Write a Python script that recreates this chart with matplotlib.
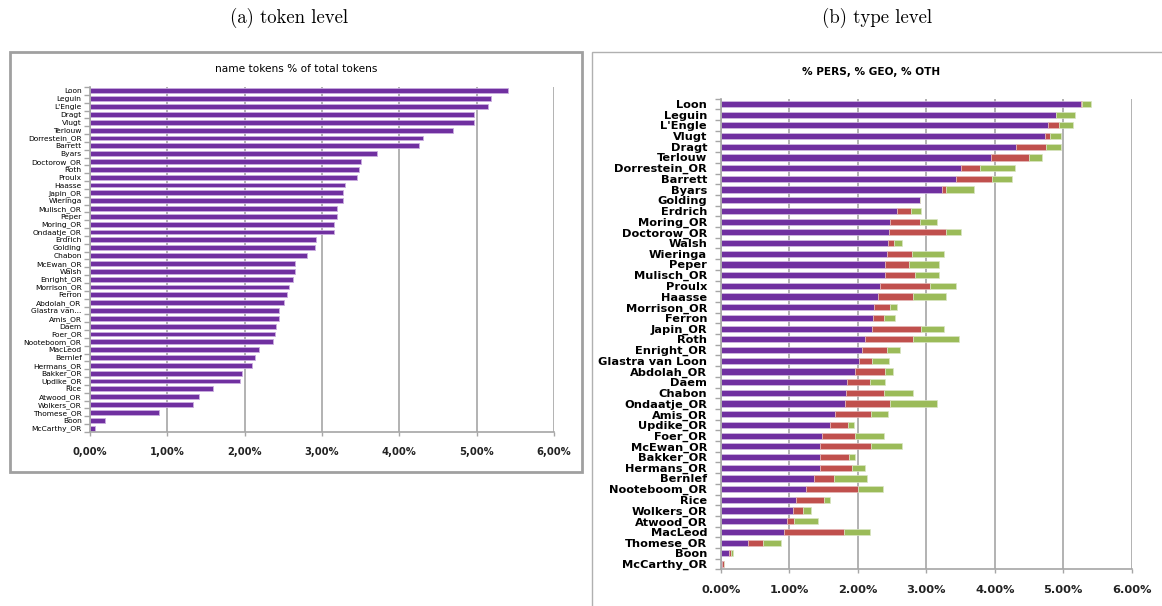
import numpy as np
import matplotlib
matplotlib.use("Agg")
import matplotlib.pyplot as plt
from matplotlib.patches import Rectangle
from matplotlib.ticker import FuncFormatter

# 1. Data
token_authors = ["Loon", "Leguin", "L'Engle", "Dragt", "Vlugt", "Terlouw", "Dorrestein_OR",
                 "Barrett", "Byars", "Doctorow_OR", "Roth", "Proulx", "Haasse", "Japin_OR",
                 "Wieringa", "Mulisch_OR", "Peper", "Moring_OR", "Ondaatje_OR", "Erdrich",
                 "Golding", "Chabon", "McEwan_OR", "Walsh", "Enright_OR", "Morrison_OR",
                 "Ferron", "Abdolah_OR", "Glastra van...", "Amis_OR", "Daem", "Foer_OR",
                 "Nooteboom_OR", "MacLeod", "Bernlef", "Hermans_OR", "Bakker_OR", "Updike_OR",
                 "Rice", "Atwood_OR", "Wolkers_OR", "Thomese_OR", "Boon", "McCarthy_OR"]
token_pct = [5.40, 5.18, 5.15, 4.97, 4.97, 4.70, 4.30, 4.26, 3.71, 3.51, 3.48, 3.45, 3.30,
             3.27, 3.27, 3.20, 3.19, 3.16, 3.15, 2.92, 2.91, 2.81, 2.65, 2.65, 2.62, 2.57,
             2.55, 2.51, 2.45, 2.44, 2.40, 2.39, 2.37, 2.18, 2.14, 2.09, 1.96, 1.94, 1.59,
             1.41, 1.33, 0.89, 0.19, 0.06]

type_authors = ["Loon", "Leguin", "L'Engle", "Vlugt", "Dragt", "Terlouw", "Dorrestein_OR",
                "Barrett", "Byars", "Golding", "Erdrich", "Moring_OR", "Doctorow_OR", "Walsh",
                "Wieringa", "Peper", "Mulisch_OR", "Proulx", "Haasse", "Morrison_OR", "Ferron",
                "Japin_OR", "Roth", "Enright_OR", "Glastra van Loon", "Abdolah_OR", "Daem",
                "Chabon", "Ondaatje_OR", "Amis_OR", "Updike_OR", "Foer_OR", "McEwan_OR",
                "Bakker_OR", "Hermans_OR", "Bernlef", "Nooteboom_OR", "Rice", "Wolkers_OR",
                "Atwood_OR", "MacLeod", "Thomese_OR", "Boon", "McCarthy_OR"]
pers_pct = [5.26, 4.89, 4.78, 4.73, 4.31, 3.95, 3.50, 3.43, 3.23, 2.91, 2.57, 2.47, 2.45,
            2.44, 2.43, 2.40, 2.39, 2.32, 2.30, 2.23, 2.22, 2.20, 2.10, 2.06, 2.02, 1.96,
            1.84, 1.82, 1.81, 1.67, 1.59, 1.47, 1.45, 1.45, 1.45, 1.36, 1.24, 1.09, 1.05,
            0.96, 0.92, 0.39, 0.12, 0.02]
geo_pct = [0.02, 0.00, 0.16, 0.07, 0.44, 0.55, 0.28, 0.53, 0.05, 0.00, 0.21, 0.44, 0.84,
           0.09, 0.36, 0.34, 0.45, 0.73, 0.50, 0.24, 0.16, 0.72, 0.70, 0.37, 0.18, 0.44,
           0.34, 0.56, 0.66, 0.52, 0.27, 0.49, 0.74, 0.42, 0.47, 0.29, 0.76, 0.42, 0.15,
           0.11, 0.88, 0.23, 0.03, 0.02]
oth_pct = [0.12, 0.28, 0.20, 0.16, 0.21, 0.19, 0.51, 0.29, 0.42, 0.00, 0.14, 0.25, 0.21,
           0.11, 0.47, 0.45, 0.35, 0.39, 0.49, 0.10, 0.16, 0.34, 0.67, 0.19, 0.25, 0.11,
           0.22, 0.43, 0.68, 0.25, 0.08, 0.42, 0.46, 0.09, 0.18, 0.48, 0.37, 0.08, 0.12,
           0.34, 0.38, 0.26, 0.02, 0.01]

xticks = [0, 1, 2, 3, 4, 5, 6]

PURPLE = "#7030A0"
RED = "#C0504D"
GREEN = "#9BBB59"
GRID = "#a6a6a6"
SANS = ["Liberation Sans Narrow", "DejaVu Sans Condensed", "DejaVu Sans"]

W, H = 1162, 606
fig = plt.figure(figsize=(W / 100, H / 100), dpi=100)


def px_axes(x0, y0, x1, y1):
    # axes from pixel box (top-left origin)
    return fig.add_axes([x0 / W, 1 - y1 / H, (x1 - x0) / W, (y1 - y0) / H])


def style_axes(ax, n, tick_fmt, tick_size, label_size, label_weight, label_pad):
    ax.set_xlim(0, 6)
    ax.set_ylim(n - 0.5, -0.5)
    ax.set_xticks(xticks)
    ax.xaxis.set_major_formatter(FuncFormatter(tick_fmt))
    ax.set_yticks(np.arange(n))
    ax.set_yticks(np.arange(n + 1) - 0.5, minor=True)
    ax.tick_params(axis="y", which="major", length=0, pad=label_pad)
    ax.tick_params(axis="y", which="minor", length=4, color=GRID, width=1)
    ax.tick_params(axis="x", length=3, color=GRID, width=1, pad=8)
    ax.grid(axis="x", color=GRID, linewidth=1.2)
    ax.set_axisbelow(True)
    for side in ["top", "right"]:
        ax.spines[side].set_visible(False)
    for side in ["left", "bottom"]:
        ax.spines[side].set_color(GRID)
        ax.spines[side].set_linewidth(1.2)
    for lab in ax.get_xticklabels():
        lab.set_fontsize(tick_size)
        lab.set_fontweight("bold")
        lab.set_family(SANS)
        lab.set_color("#222222")
    for lab in ax.get_yticklabels():
        lab.set_fontsize(label_size)
        lab.set_fontweight(label_weight)
        lab.set_family(SANS)
        lab.set_color("black")


# Panel frames
fig.patches.append(Rectangle((10 / W, 1 - 472 / H), 572 / W, 420 / H, transform=fig.transFigure,
                             fill=False, edgecolor="#a0a0a0", linewidth=2))
fig.patches.append(Rectangle((592 / W, -0.1), 0.5, 1 - 52 / H + 0.1, transform=fig.transFigure,
                             fill=False, edgecolor="#b0b0b0", linewidth=1))

# Captions
fig.text(289 / W, 1 - 18 / H, "(a) token level", family=["cmr10", "DejaVu Serif"], fontsize=13.5,
         ha="center", va="center")
fig.text(877 / W, 1 - 18 / H, "(b) type level", family=["cmr10", "DejaVu Serif"], fontsize=13.5,
         ha="center", va="center")

# Left: token level
ax1 = px_axes(90, 87, 554, 432)
y1 = np.arange(len(token_authors))
ax1.barh(y1, token_pct, height=0.62, color=PURPLE, edgecolor="#c9acdf", linewidth=0.6)
ax1.set_yticklabels(token_authors)
style_axes(ax1, len(token_authors), lambda v, p: f"{v:.2f}%".replace(".", ","), 7.2, 5.4,
           "normal", 6)
fig.text(296 / W, 1 - 69 / H, "name tokens % of total tokens", family=SANS, fontsize=7.6,
         ha="center", va="center")

# Right: type level, stacked
ax2 = px_axes(721, 98.6, 1131.7, 569.4)
y2 = np.arange(len(type_authors))
pers = np.array(pers_pct)
geo = np.array(geo_pct)
oth = np.array(oth_pct)
bh = 0.58
ax2.barh(y2, pers, height=bh, color=PURPLE, edgecolor="#d3bfe3", linewidth=0.5)
ax2.barh(y2, geo, left=pers, height=bh, color=RED, edgecolor="#e5b9b8", linewidth=0.5)
ax2.barh(y2, oth, left=pers + geo, height=bh, color=GREEN, edgecolor="#d9e6c3", linewidth=0.5)
ax2.set_yticklabels(type_authors)
style_axes(ax2, len(type_authors), lambda v, p: f"{v:.2f}%", 8.2, 8.2, "bold", 10)
fig.text(871 / W, 1 - 72 / H, "% PERS, % GEO, % OTH", family=SANS, fontsize=7.6,
         fontweight="bold", ha="center", va="center")

plt.savefig("out.png", dpi=100)
